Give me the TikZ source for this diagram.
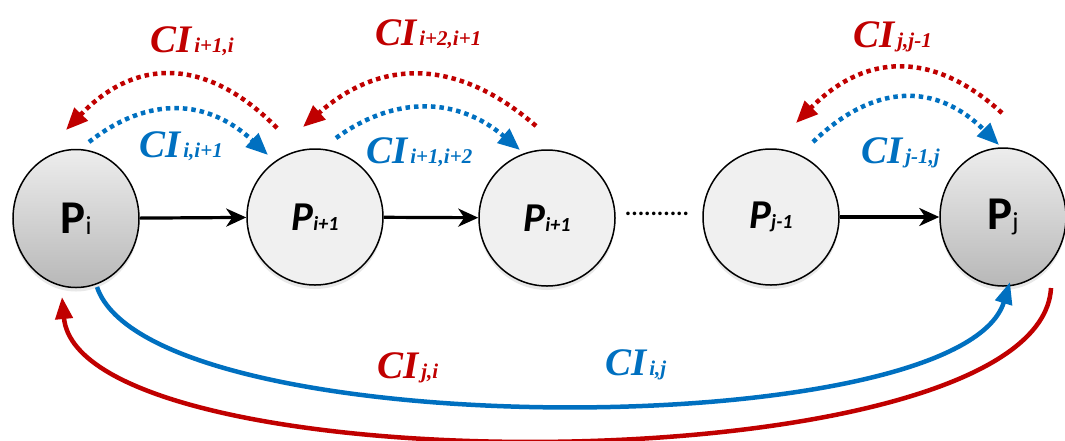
\documentclass[tikz,border=0pt]{standalone}
\usepackage{fontspec}
\setmainfont{Liberation Serif}
\newfontfamily\calib{Carlito}
\usetikzlibrary{arrows.meta,shapes.geometric,shadows}
\definecolor{cired}{HTML}{C00000}
\definecolor{ciblue}{HTML}{0070C0}
\newcommand{\cisub}[1]{\hspace{3pt}{\fontsize{21}{21}\selectfont #1}}
\newcommand{\graysub}[1]{\raisebox{-1pt}{\mdseries\fontsize{26}{26}\selectfont #1}}
\newcommand{\midsub}[1]{{\fontsize{20}{20}\selectfont #1}}
\begin{document}
\begin{tikzpicture}[x=1pt,y=-1pt,
  endnode/.style={ellipse, draw=black, line width=1.5pt, minimum width=126pt, minimum height=138pt, inner sep=0pt,
    top color=black!7, bottom color=black!28,
    drop shadow={opacity=0.18, shadow xshift=0pt, shadow yshift=-4pt}},
  midnode/.style={circle, draw=black, line width=1.5pt, minimum size=136pt, inner sep=0pt, fill=black!6,
    drop shadow={opacity=0.18, shadow xshift=0pt, shadow yshift=-4pt}},
  blackarrow/.style={line width=3.2pt, -{Stealth[length=20pt,width=18pt,inset=6pt]}},
  redarc/.style={cired, line width=4.5pt, dash pattern=on 4.5pt off 4pt, -{Triangle[length=22pt,width=18pt]}},
  bluearc/.style={ciblue, line width=4.5pt, dash pattern=on 4.5pt off 4pt, -{Triangle[length=22pt,width=18pt]}},
  redlong/.style={cired, line width=4.5pt, -{Triangle[length=22pt,width=17pt]}},
  bluelong/.style={ciblue, line width=4.5pt, -{Triangle[length=22pt,width=17pt]}},
  cilab/.style={anchor=base west, inner sep=0pt, font=\bfseries\itshape\fontsize{39}{39}\selectfont},
  endlab/.style={font=\calib\bfseries\fontsize{47}{47}\selectfont},
  midlab/.style={font=\calib\bfseries\itshape\fontsize{41}{41}\selectfont}
]
\useasboundingbox (0,0) rectangle (1065,440);

% nodes
\node[endnode, endlab] (pi) at (76,218.5) {P\graysub{i}};
\node[midnode, midlab] (p2) at (315,217) {P\midsub{i+1}};
\node[midnode, midlab] (p3) at (547,218) {P\midsub{i+1}};
\node[midnode, midlab] (pj1) at (771,217) {P\midsub{j-1}};
\node[endnode, endlab] (pj) at (1003,217) {P\graysub{j}};
\node[font=\calib\bfseries\fontsize{24}{24}\selectfont] (dots) at (657,214) {..........};

% black arrows
\draw[blackarrow] (pi) -- (p2);
\draw[blackarrow] (p2) -- (p3);
\draw[blackarrow] (pj1) -- (pj);

% dotted arcs: coordinates
\coordinate (r1s) at (277,128); \coordinate (r1e) at (66,130);
\coordinate (b1s) at (89,142);  \coordinate (b1e) at (268,155);
\coordinate (r2s) at (536,126); \coordinate (r2e) at (303,127);
\coordinate (b2s) at (336,138); \coordinate (b2e) at (520,150);
\coordinate (r3s) at (1002,113); \coordinate (r3e) at (796,123);
\coordinate (b3s) at (813,142); \coordinate (b3e) at (999,145);

\draw[redarc] (r1s) .. controls (207,57) and (136,57) .. (r1e);
\draw[bluearc] (b1s) .. controls (149,95) and (208,99) .. (b1e);
\draw[redarc] (r2s) .. controls (458,58) and (381,58) .. (r2e);
\draw[bluearc] (b2s) .. controls (397,94) and (459,98) .. (b2e);
\draw[redarc] (r3s) .. controls (933,50) and (865,53) .. (r3e);
\draw[bluearc] (b3s) .. controls (875,82) and (937,83) .. (b3e);

% long curves
\coordinate (bls) at (97,287); \coordinate (ble) at (1010,282);
\coordinate (rls) at (1051,288); \coordinate (rle) at (62,297);
\draw[bluelong] (bls) .. controls (150,445) and (960,445) .. (ble);
\draw[redlong] (rls) .. controls (1040,488) and (80,488) .. (rle);

% labels
\node[cilab, cired] (l1) at (150,52) {CI\cisub{i+1,i}};
\node[cilab, cired] (l2) at (375,45) {CI\cisub{i+2,i+1}};
\node[cilab, ciblue] (l3) at (139,157) {CI\cisub{i,i+1}};
\node[cilab, ciblue] (l4) at (366,163) {CI\cisub{i+1,i+2}};
\node[cilab, cired] (l5) at (853,47) {CI\cisub{j,j-1}};
\node[cilab, ciblue] (l6) at (861,163) {CI\cisub{j-1,j}};
\node[cilab, cired] (l7) at (377,378) {CI\cisub{j,i}};
\node[cilab, ciblue] (l8) at (605,375) {CI\cisub{i,j}};
\end{tikzpicture}
\end{document}
